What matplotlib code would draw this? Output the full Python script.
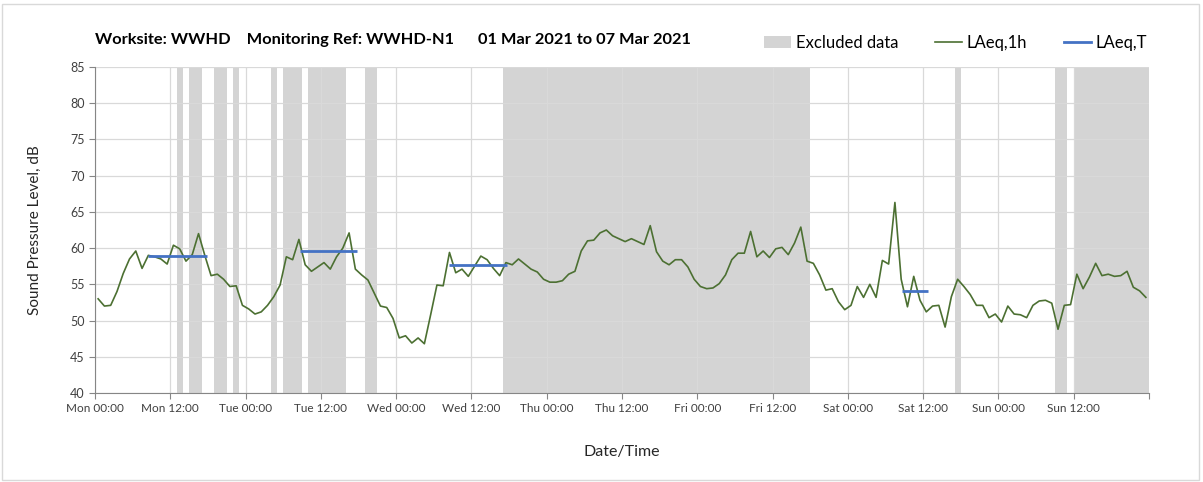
import numpy as np
import matplotlib
matplotlib.use("Agg")
import matplotlib.pyplot as plt
from matplotlib.patches import Patch, Rectangle
from matplotlib.lines import Line2D

plt.rcParams['font.family'] = ['Lato', 'DejaVu Sans']

# Hourly LAeq,1h values (hour 0 = Mon 00:00)
laeq_1h = [
    53.0, 52.0, 52.1, 54.0, 56.5, 58.5, 59.6, 57.2, 59.0, 58.8,
    58.5, 57.8, 60.4, 59.9, 58.2, 59.1, 62.0, 59.0, 56.2, 56.4,
    55.7, 54.7, 54.8, 52.1, 51.6, 50.9, 51.2, 52.1, 53.3, 54.9,
    58.8, 58.4, 61.2, 57.7, 56.8, 57.4, 58.0, 57.1, 58.8, 60.0,
    62.1, 57.1, 56.3, 55.6, 53.8, 52.0, 51.8, 50.3, 47.6, 47.9,
    46.9, 47.6, 46.8, 50.8, 54.9, 54.8, 59.4, 56.6, 57.1, 56.1,
    57.5, 58.9, 58.4, 57.2, 56.2, 58.0, 57.7, 58.5, 57.8, 57.1,
    56.7, 55.7, 55.3, 55.3, 55.5, 56.4, 56.8, 59.6, 61.0, 61.1,
    62.1, 62.5, 61.7, 61.3, 60.9, 61.3, 60.9, 60.5, 63.1, 59.5,
    58.2, 57.7, 58.4, 58.4, 57.4, 55.7, 54.7, 54.4, 54.5, 55.1,
    56.3, 58.4, 59.3, 59.3, 62.3, 58.8, 59.6, 58.7, 59.9, 60.1,
    59.1, 60.7, 62.9, 58.2, 57.9, 56.3, 54.2, 54.4, 52.6, 51.5,
    52.1, 54.7, 53.2, 55.0, 53.2, 58.3, 57.8, 66.3, 55.7, 51.9,
    56.1, 52.8, 51.2, 52.0, 52.1, 49.1, 53.3, 55.7, 54.7, 53.6,
    52.1, 52.1, 50.4, 50.9, 49.8, 52.0, 50.9, 50.8, 50.4, 52.1,
    52.7, 52.8, 52.4, 48.8, 52.1, 52.2, 56.4, 54.4, 56.0, 57.9,
    56.2, 56.4, 56.1, 56.2, 56.8, 54.6, 54.1, 53.2,
]

# Excluded periods (start hour, end hour)
excl_start = [13, 15, 19, 22, 28, 30, 34, 43, 65, 137, 153, 156]
excl_end   = [14, 17, 21, 23, 29, 33, 40, 45, 114, 138, 155, 168]

# LAeq,T periods
laeqT_start = [8.5, 32.6, 56.5, 128.6]
laeqT_end   = [17.8, 41.7, 65.7, 132.8]
laeqT_val   = [58.9, 59.6, 57.7, 54.1]

tick_labels = ["Mon 00:00", "Mon 12:00", "Tue 00:00", "Tue 12:00", "Wed 00:00",
               "Wed 12:00", "Thu 00:00", "Thu 12:00", "Fri 00:00", "Fri 12:00",
               "Sat 00:00", "Sat 12:00", "Sun 00:00", "Sun 12:00", ""]

title_text = "Worksite: WWHD    Monitoring Ref: WWHD-N1      01 Mar 2021 to 07 Mar 2021"

grey = "#d4d4d4"
green = "#4c7032"
blue = "#4472c4"

fig = plt.figure(figsize=(12.03, 4.82), dpi=100)
ax = fig.add_axes([95/1203, 1 - 393/482, (1149-95)/1203, (393-67)/482])

for s, e in zip(excl_start, excl_end):
    ax.axvspan(s, e, color=grey, lw=0, zorder=0)

hours = np.arange(len(laeq_1h)) + 0.5
ax.plot(hours, laeq_1h, color=green, lw=1.2, zorder=3)
ax.hlines(laeqT_val, laeqT_start, laeqT_end, color=blue, lw=2.0, zorder=4)

ax.set_xlim(0, 168)
ax.set_ylim(40, 85)
ax.set_xticks(np.arange(0, 169, 12))
ax.set_xticklabels(tick_labels, fontsize=8.5, color="#404040")
ax.set_yticks(np.arange(40, 86, 5))
ax.tick_params(axis='y', labelsize=9, colors="#404040", length=4, color="#868686")
ax.tick_params(axis='x', length=4, color="#868686")
ax.grid(True, color="#d9d9d9", lw=0.9, zorder=1)
ax.set_axisbelow(True)
for sp in ["top", "right"]:
    ax.spines[sp].set_visible(False)
for sp in ["left", "bottom"]:
    ax.spines[sp].set_color("#868686")

ax.set_ylabel("Sound Pressure Level, dB", fontsize=11, color="#262626", labelpad=20)
ax.set_xlabel("Date/Time", fontsize=11.5, color="#262626", labelpad=22)

fig.text(95/1203, 1 - 40/482, title_text, fontsize=11.8, fontweight='bold',
         ha='left', va='center', color="#000000")

handles = [Patch(facecolor=grey, edgecolor='none'),
           Line2D([], [], color=green, lw=1.2),
           Line2D([], [], color=blue, lw=2.0)]
fig.legend(handles, ["Excluded data", "LAeq,1h", "LAeq,T"], loc='center right',
           bbox_to_anchor=(1162/1203, 1 - 43/482), ncol=3, frameon=False,
           fontsize=12, handlelength=1.6, columnspacing=2.2, handletextpad=0.3)

fig.patches.append(Rectangle((2/1203, 2/482), 1 - 6/1203, 1 - 6/482,
                             transform=fig.transFigure, fill=False,
                             edgecolor="#d9d9d9", lw=1))

fig.savefig("out.png", dpi=100)
